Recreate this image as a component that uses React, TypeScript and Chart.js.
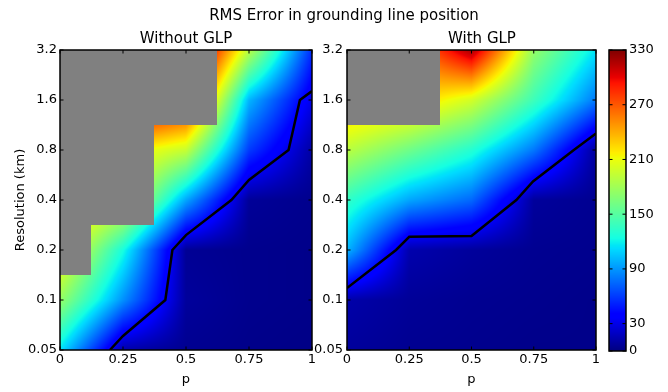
import React, { useEffect, useRef } from 'react';
import { Chart, registerables } from 'chart.js';
Chart.register(...registerables);

// ---------- data ----------
const pValues = [0, 0.25, 0.5, 0.75, 1];
const resolutions = [0.05, 0.1, 0.2, 0.4, 0.8, 1.6, 3.2];
const pTickLabels = ['0', '0.25', '0.5', '0.75', '1'];
const resTickLabels = ['0.05', '0.1', '0.2', '0.4', '0.8', '1.6', '3.2'];
const colorTicks = [0, 30, 90, 150, 210, 270, 330];
const colorMin = 0;
const colorMax = 330;

// rows: resolution 0.05 -> 3.2 ; columns: p = 0, 0.25, 0.5, 0.75, 1
const errWithoutGLP = [
  [115, 12, 5, 3, 2],
  [175, 88, 8, 4, 3],
  [220, 125, 6, 4, 3],
  [240, 210, 95, 7, 4],
  [260, 220, 195, 60, 10],
  [300, 333, 300, 100, 30],
  [300, 333, 360, 190, 55],
];
const maskWithoutGLP = [
  [0, 0, 0, 0, 0],
  [0, 0, 0, 0, 0],
  [1, 0, 0, 0, 0],
  [1, 1, 0, 0, 0],
  [1, 1, 0, 0, 0],
  [1, 1, 1, 0, 0],
  [1, 1, 1, 0, 0],
];
const errWithGLP = [
  [8, 5, 4, 3, 3],
  [12, 7, 5, 4, 3],
  [100, 13, 8, 5, 4],
  [135, 95, 75, 8, 5],
  [190, 160, 130, 80, 8],
  [240, 230, 200, 140, 80],
  [200, 250, 320, 175, 115],
];
const maskWithGLP = [
  [0, 0, 0, 0, 0],
  [0, 0, 0, 0, 0],
  [0, 0, 0, 0, 0],
  [0, 0, 0, 0, 0],
  [0, 0, 0, 0, 0],
  [1, 1, 0, 0, 0],
  [1, 1, 0, 0, 0],
];
const contourWithoutP = [0.198, 0.25, 0.418, 0.446, 0.5, 0.68, 0.75, 0.907, 0.952, 1.0];
const contourWithoutRes = [0.05, 0.0607, 0.1, 0.2, 0.246, 0.4, 0.528, 0.8, 1.6, 1.81];
const contourWithP = [0, 0.197, 0.25, 0.5, 0.68, 0.747, 0.911, 1.0];
const contourWithRes = [0.118, 0.2, 0.24, 0.243, 0.4, 0.517, 0.8, 1.007];

// ---------- helpers ----------
const FONT = 'DejaVu Sans';
Chart.defaults.font.family = FONT;
Chart.defaults.color = '#000';

function interpSeg(pts: number[][], t: number) {
  for (let i = 0; i < pts.length - 1; i++) {
    if (t <= pts[i + 1][0]) {
      const [x0, y0] = pts[i];
      const [x1, y1] = pts[i + 1];
      return y0 + ((t - x0) / (x1 - x0)) * (y1 - y0);
    }
  }
  return pts[pts.length - 1][1];
}
function jet(v: number): [number, number, number] {
  const t = Math.min(1, Math.max(0, (v - colorMin) / (colorMax - colorMin)));
  const r = interpSeg([[0, 0], [0.35, 0], [0.66, 1], [0.89, 1], [1, 0.5]], t);
  const g = interpSeg([[0, 0], [0.125, 0], [0.375, 1], [0.64, 1], [0.91, 0], [1, 0]], t);
  const b = interpSeg([[0, 0.5], [0.11, 1], [0.34, 1], [0.65, 0], [1, 0]], t);
  return [Math.round(r * 255), Math.round(g * 255), Math.round(b * 255)];
}
function locate(arr: number[], v: number): [number, number] {
  if (v <= arr[0]) return [0, 0];
  for (let i = 0; i < arr.length - 1; i++) {
    if (v <= arr[i + 1]) return [i, (v - arr[i]) / (arr[i + 1] - arr[i])];
  }
  return [arr.length - 2, 1];
}

function heatPlugin(values: number[][], mask: number[][]) {
  return {
    id: 'heat',
    beforeDatasetsDraw(chart: any) {
      const { ctx, chartArea: a, scales } = chart;
      const xs = scales.x;
      const ys = scales.y;
      const L = Math.round(a.left);
      const T = Math.round(a.top);
      const W = Math.round(a.right) - L;
      const H = Math.round(a.bottom) - T;
      const logRes = resolutions.map((r) => Math.log(r));
      const img = ctx.createImageData(W, H);
      const cols: [number, number][] = [];
      for (let i = 0; i < W; i++) cols.push(locate(pValues, xs.getValueForPixel(L + i + 0.5)));
      for (let j = 0; j < H; j++) {
        const [r, ty] = locate(logRes, Math.log(ys.getValueForPixel(T + j + 0.5)));
        for (let i = 0; i < W; i++) {
          const [c, tx] = cols[i];
          const rn = ty < 0.5 ? r : r + 1;
          const cn = tx < 0.5 ? c : c + 1;
          let rgb: [number, number, number];
          if (mask[rn][cn]) rgb = [128, 128, 128];
          else {
            const v =
              values[r][c] * (1 - tx) * (1 - ty) +
              values[r][c + 1] * tx * (1 - ty) +
              values[r + 1][c] * (1 - tx) * ty +
              values[r + 1][c + 1] * tx * ty;
            rgb = jet(v);
          }
          const k = (j * W + i) * 4;
          img.data[k] = rgb[0];
          img.data[k + 1] = rgb[1];
          img.data[k + 2] = rgb[2];
          img.data[k + 3] = 255;
        }
      }
      const off = document.createElement('canvas');
      off.width = W;
      off.height = H;
      off.getContext('2d')!.putImageData(img, 0, 0);
      ctx.drawImage(off, L, T);
    },
  };
}

const colorbarPlugin = {
  id: 'cbar',
  beforeDatasetsDraw(chart: any) {
    const { ctx, chartArea: a, scales } = chart;
    const ys = scales.y;
    for (let py = Math.round(a.top); py < Math.round(a.bottom); py++) {
      const [r, g, b] = jet(ys.getValueForPixel(py + 0.5));
      ctx.fillStyle = `rgb(${r},${g},${b})`;
      ctx.fillRect(a.left, py, a.right - a.left, 1);
    }
  },
};

const framePlugin = {
  id: 'frame',
  afterDraw(chart: any) {
    const { ctx, chartArea: a } = chart;
    ctx.save();
    ctx.strokeStyle = '#000';
    ctx.lineWidth = 1;
    const tl = 3.5;
    Object.values(chart.scales).forEach((s: any) => {
      if (!s.options.display) return;
      s.ticks.forEach((t: any) => {
        const px = s.getPixelForValue(t.value);
        ctx.beginPath();
        if (s.isHorizontal()) {
          ctx.moveTo(px, a.bottom);
          ctx.lineTo(px, a.bottom - tl);
          ctx.moveTo(px, a.top);
          ctx.lineTo(px, a.top + tl);
        } else {
          ctx.moveTo(a.left, px);
          ctx.lineTo(a.left + tl, px);
          ctx.moveTo(a.right, px);
          ctx.lineTo(a.right - tl, px);
        }
        ctx.stroke();
      });
    });
    ctx.lineWidth = 1.5;
    ctx.strokeRect(a.left, a.top, a.right - a.left, a.bottom - a.top);
    ctx.restore();
  },
};

const tickFont = { family: FONT, size: 13 };

function panelConfig(
  values: number[][],
  mask: number[][],
  cP: number[],
  cR: number[],
  canvasW: number,
  areaRight: number,
  yWidth: number,
  yPad: number,
  yTitle: string | null
): any {
  return {
    type: 'scatter',
    data: {
      datasets: [
        {
          data: cP.map((p, i) => ({ x: p, y: cR[i] })),
          showLine: true,
          borderColor: '#000',
          borderWidth: 2.5,
          pointRadius: 0,
          fill: false,
          tension: 0,
        },
      ],
    },
    options: {
      responsive: false,
      animation: false,
      events: [],
      layout: { padding: { top: 50, right: canvasW - areaRight, bottom: 0, left: 0 } },
      plugins: { legend: { display: false }, tooltip: { enabled: false }, title: { display: false } },
      scales: {
        x: {
          type: 'linear',
          min: 0,
          max: 1,
          afterBuildTicks: (s: any) => {
            s.ticks = pValues.map((v) => ({ value: v }));
          },
          ticks: {
            callback: (_v: any, i: number) => pTickLabels[i],
            padding: 2,
            color: '#000',
            font: tickFont,
            maxRotation: 0,
            autoSkip: false,
          },
          grid: { display: false, drawTicks: false },
          border: { display: false },
          title: { display: true, text: 'p', color: '#000', font: tickFont, padding: { top: 0, bottom: 4.8 } },
          afterFit: (s: any) => {
            s.height = 42;
          },
        },
        y: {
          type: 'logarithmic',
          min: resolutions[0],
          max: resolutions[resolutions.length - 1],
          afterBuildTicks: (s: any) => {
            s.ticks = resolutions.map((v) => ({ value: v }));
          },
          ticks: {
            callback: (_v: any, i: number) => resTickLabels[i],
            padding: yPad,
            color: '#000',
            font: tickFont,
            autoSkip: false,
          },
          grid: { display: false, drawTicks: false },
          border: { display: false },
          title: yTitle
            ? { display: true, text: yTitle, color: '#000', font: tickFont, padding: { top: 13, bottom: 0 } }
            : { display: false },
          afterFit: (s: any) => {
            s.width = yWidth;
          },
        },
      },
    },
    plugins: [heatPlugin(values, mask), framePlugin],
  };
}

function colorbarConfig(): any {
  return {
    type: 'scatter',
    data: { datasets: [{ data: [] }] },
    options: {
      responsive: false,
      animation: false,
      events: [],
      layout: { padding: { top: 50, right: 0, bottom: 41, left: 29 } },
      plugins: { legend: { display: false }, tooltip: { enabled: false } },
      scales: {
        x: { type: 'linear', display: false, min: 0, max: 1 },
        y: {
          type: 'linear',
          position: 'right',
          min: colorMin,
          max: colorMax,
          afterBuildTicks: (s: any) => {
            s.ticks = colorTicks.map((v) => ({ value: v }));
          },
          ticks: {
            callback: (v: any) => String(v),
            padding: 3,
            color: '#000',
            font: tickFont,
            autoSkip: false,
          },
          grid: { display: false, drawTicks: false },
          border: { display: false },
          afterFit: (s: any) => {
            s.width = 42;
          },
        },
      },
    },
    plugins: [colorbarPlugin, framePlugin],
  };
}

const textStyle: React.CSSProperties = {
  position: 'absolute',
  fontFamily: FONT,
  fontSize: 15,
  lineHeight: '18px',
  textAlign: 'center',
  color: '#000',
  whiteSpace: 'nowrap',
};

export default function App() {
  const leftRef = useRef<HTMLCanvasElement>(null);
  const rightRef = useRef<HTMLCanvasElement>(null);
  const cbRef = useRef<HTMLCanvasElement>(null);

  useEffect(() => {
    const c1 = new Chart(
      leftRef.current!,
      panelConfig(errWithoutGLP, maskWithoutGLP, contourWithoutP, contourWithoutRes, 334, 312, 60, 3, 'Resolution (km)')
    );
    const c2 = new Chart(
      rightRef.current!,
      panelConfig(errWithGLP, maskWithGLP, contourWithP, contourWithRes, 368, 296, 47, 4, null)
    );
    const c3 = new Chart(cbRef.current!, colorbarConfig());
    return () => {
      c1.destroy();
      c2.destroy();
      c3.destroy();
    };
  }, []);

  return (
    <div style={{ position: 'absolute', left: 0, top: 0, width: 668, height: 392, background: '#fff' }}>
      <canvas ref={leftRef} width={334} height={392} style={{ position: 'absolute', left: 0, top: 0 }} />
      <canvas ref={rightRef} width={368} height={392} style={{ position: 'absolute', left: 300, top: 0 }} />
      <canvas ref={cbRef} width={88} height={392} style={{ position: 'absolute', left: 580, top: 0 }} />
      <div style={{ ...textStyle, left: 144, width: 400, top: 6 }}>RMS Error in grounding line position</div>
      <div style={{ ...textStyle, left: 86, width: 200, top: 29 }}>Without GLP</div>
      <div style={{ ...textStyle, left: 382, width: 200, top: 29 }}>With GLP</div>
    </div>
  );
}
